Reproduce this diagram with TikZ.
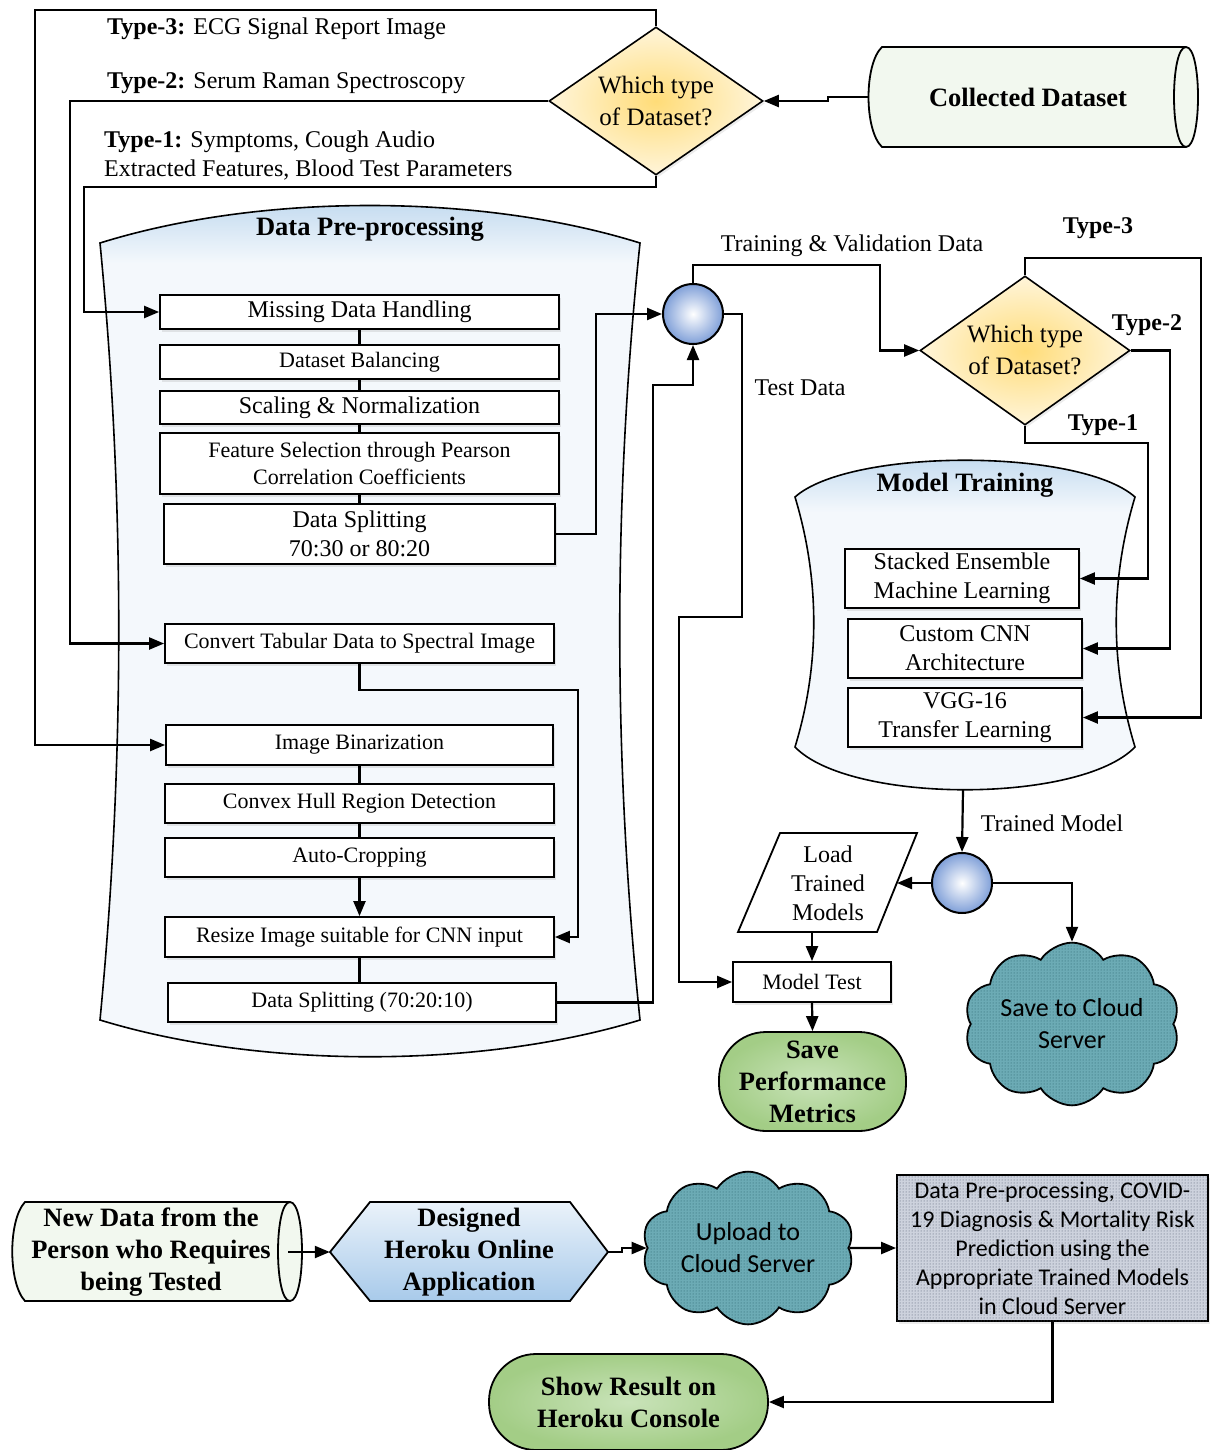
\documentclass[tikz,border=0pt]{standalone}
\usepackage{fontspec}
\setmainfont{Liberation Serif}
\newfontfamily\calib{Carlito}
\usetikzlibrary{arrows.meta,shapes.symbols,shapes.geometric,shadows,patterns,calc}
\definecolor{cylfill}{HTML}{F2F8EF}
\definecolor{dyel}{HTML}{FFDC78}
\definecolor{dlight}{HTML}{FFF5DA}
\definecolor{circblue}{HTML}{7F9FD8}
\definecolor{shtop}{HTML}{BDD7EE}
\definecolor{shlight}{HTML}{F4F8FC}
\definecolor{cloudfill}{HTML}{6CABB5}
\definecolor{clouddot}{HTML}{24606A}
\definecolor{grayfill}{HTML}{CDD2DD}
\definecolor{graydot}{HTML}{4E566C}
\definecolor{greenin}{HTML}{C9E3B9}
\definecolor{greenout}{HTML}{A3CD86}
\definecolor{hextop}{HTML}{EAF2FA}
\definecolor{hexbot}{HTML}{A8CAEA}
\pgfdeclareverticalshading{prepshade}{100bp}{color(0bp)=(shlight); color(25bp)=(shlight); color(71bp)=(shlight); color(75bp)=(shtop); color(100bp)=(shtop)}
\pgfdeclareverticalshading{mtshade}{100bp}{color(0bp)=(shlight); color(25bp)=(shlight); color(66bp)=(shlight); color(75bp)=(shtop); color(100bp)=(shtop)}
\newcommand\fsz[2]{\fontsize{#1}{#2}\selectfont}
\begin{document}
\begin{tikzpicture}[x=1pt,y=-1pt,
  every node/.style={inner sep=0pt},
  ln/.style={line width=2.2pt},
  arr/.style={line width=2.2pt,-{Triangle[length=15pt,width=12pt]}},
  pbox/.style={draw,line width=1.8pt,fill=white,align=center,
    drop shadow={opacity=0.18,shadow xshift=2pt,shadow yshift=-2.5pt}},
  circ/.style={circle,draw,line width=2pt,minimum size=60pt,inner color=white,outer color=circblue},
  diam/.style={diamond,draw,line width=1.6pt,inner color=dyel,outer color=dlight,
    drop shadow={opacity=0.15,shadow xshift=2pt,shadow yshift=-2.5pt}},
  dtext/.style={font=\rmfamily\fsz{25}{32},align=center},
  lab/.style={font=\rmfamily\fsz{24}{29}},
  blab/.style={font=\rmfamily\bfseries\fsz{24}{29}},
  ttl/.style={font=\rmfamily\bfseries\fsz{26.5}{32},align=center},
  cloudst/.style={cloud,cloud puffs=10,cloud puff arc=115,aspect=1.5,draw,line width=1.8pt,
    fill=cloudfill,postaction={pattern=dots,pattern color=clouddot},
    minimum width=212pt,minimum height=142pt,font=\calib\fsz{26}{32},align=center},
  stad/.style={draw,line width=1.8pt,rounded corners=47pt,inner color=greenin,outer color=greenout,
    font=\rmfamily\bfseries\fsz{26.5}{32},align=center}
]
\useasboundingbox (0,0) rectangle (1213,1450);

% containers
\shadedraw[line width=1.6pt,shading=prepshade] (100,243) .. controls (260,193) and (480,193) .. (640,243)
  .. controls (613,500) and (613,760) .. (640,1020) .. controls (480,1069) and (260,1069) .. (100,1020)
  .. controls (125,760) and (125,500) .. cycle;
\shadedraw[line width=1.6pt,shading=mtshade] (795,497) .. controls (850,448) and (1080,448) .. (1135,497)
  .. controls (1110,580) and (1110,665) .. (1135,747) .. controls (1080,804) and (850,804) .. (795,747)
  .. controls (820,665) and (820,580) .. cycle;
\node[ttl] (tpp) at (370,229) {Data Pre-processing};
\node[ttl] (tmt) at (965,485) {Model Training};

% collected dataset cylinder
\draw[line width=1.8pt,fill=cylfill] (882,47) -- (1186,47) .. controls (1202,47) and (1202,147) .. (1186,147)
  -- (882,147) .. controls (864,130) and (864,64) .. cycle;
\draw[line width=1.8pt] (1186,47) .. controls (1170,47) and (1170,147) .. (1186,147);
\node[ttl] (coll) at (1028,97) {Collected Dataset};
\coordinate (collW) at (868,97);

% decisions
\node[diam,minimum width=214pt,minimum height=148pt] (d1) at (656,101) {};
\node[dtext] (d1t) at (656,101) {Which type\\of Dataset?};
\node[diam,minimum width=210pt,minimum height=149pt] (d2) at (1025,350.5) {};
\node[dtext] (d2t) at (1025,350.5) {Which type\\of Dataset?};

% type labels
\node[lab,anchor=west] (l3) at (107,29) {\textbf{Type-3:} ECG Signal Report Image};
\node[lab,anchor=west] (l2) at (107,83) {\textbf{Type-2:} Serum Raman Spectroscopy};
\node[lab,anchor=west,align=left] (l1) at (104,156) {\textbf{Type-1:} Symptoms, Cough Audio\\Extracted Features, Blood Test Parameters};
\node[blab] (r3) at (1098,228) {Type-3};
\node[blab] (r2) at (1147,325) {Type-2};
\node[blab] (r1) at (1103,425) {Type-1};
\node[lab] (ltv) at (852,246) {Training \& Validation Data};
\node[lab] (ltd) at (800,388) {Test Data};
\node[lab] (ltm) at (1052,823) {Trained Model};

% preprocessing boxes
\node[pbox,minimum width=399pt,minimum height=34pt,font=\fsz{24}{28}] (mdh) at (359.5,312) {Missing Data Handling};
\node[pbox,minimum width=399pt,minimum height=34pt,font=\fsz{22}{26}] (bal) at (359.5,362) {Dataset Balancing};
\node[pbox,minimum width=399pt,minimum height=33pt,font=\fsz{24}{28}] (scl) at (359.5,407.5) {Scaling \& Normalization};
\node[pbox,minimum width=399pt,minimum height=61pt,font=\fsz{22}{27}] (fs) at (359.5,463.5) {Feature Selection through Pearson\\Correlation Coefficients};
\node[pbox,minimum width=391pt,minimum height=60pt,font=\fsz{24}{29}] (ds1) at (359.5,534) {Data Splitting\\70:30 or 80:20};
\node[pbox,minimum width=389pt,minimum height=39pt,font=\fsz{22}{26}] (conv) at (359.5,643.5) {Convert Tabular Data to Spectral Image};
\node[pbox,minimum width=387pt,minimum height=40pt,font=\fsz{22}{26}] (bin) at (359.5,745) {Image Binarization};
\node[pbox,minimum width=389pt,minimum height=39pt,font=\fsz{22}{26}] (hull) at (359.5,803.5) {Convex Hull Region Detection};
\node[pbox,minimum width=389pt,minimum height=39pt,font=\fsz{22}{26}] (crop) at (359.5,857.5) {Auto-Cropping};
\node[pbox,minimum width=389pt,minimum height=40pt,font=\fsz{22}{26}] (resize) at (359.5,937) {Resize Image suitable for CNN input};
\node[pbox,minimum width=388pt,minimum height=39pt,font=\fsz{22}{26}] (ds2) at (362,1002.5) {Data Splitting (70:20:10)};

% model boxes
\node[pbox,minimum width=234pt,minimum height=59pt,font=\fsz{24}{29}] (sem) at (962,578.5) {Stacked Ensemble\\Machine Learning};
\node[pbox,minimum width=234pt,minimum height=59pt,font=\fsz{24}{29}] (cnn) at (965,648.5) {Custom CNN\\Architecture};
\node[pbox,minimum width=234pt,minimum height=59pt,font=\fsz{24}{29}] (vgg) at (965,717.5) {VGG-16\\Transfer Learning};

% circles
\node[circ] (m1) at (693,314) {};
\node[circ] (m2) at (962,883) {};

% load trained models
\draw[line width=1.8pt,fill=white] (738,932) -- (780,833) -- (917,833) -- (877,932) -- cycle;
\node[lab,align=center] (load) at (828,883) {Load\\Trained\\Models};
\coordinate (loadR) at (897,883);
\coordinate (loadB) at (812,932);

\node[pbox,minimum width=158pt,minimum height=40pt,font=\fsz{22}{26}] (mtest) at (812,982) {Model Test};
\node[stad,minimum width=187pt,minimum height=99pt] (spm) at (812.5,1081.5) {Save\\Performance\\Metrics};
\node[cloudst] (scs) at (1072,1024) {Save to Cloud\\Server};

% bottom row
\draw[line width=1.8pt,fill=cylfill] (25,1202) -- (290,1202) .. controls (306,1202) and (306,1301) .. (290,1301)
  -- (25,1301) .. controls (8,1283) and (8,1220) .. cycle;
\draw[line width=1.8pt] (290,1202) .. controls (274,1202) and (274,1301) .. (290,1301);
\node[ttl] (nd) at (151,1252) {New Data from the\\Person who Requires\\being Tested};
\coordinate (ndE) at (288,1252);
\shade[top color=hextop,bottom color=hexbot,draw=black,line width=1.8pt]
  (330,1252) -- (370,1202) -- (570,1202) -- (608,1252) -- (570,1301) -- (370,1301) -- cycle;
\node[ttl,minimum width=278pt] (hero) at (469,1252) {Designed\\Heroku Online\\Application};
\node[cloudst] (up) at (748,1248) {Upload to\\Cloud Server};
\node[draw,line width=1.8pt,fill=grayfill,postaction={pattern=dots,pattern color=graydot},
  minimum width=311pt,minimum height=146pt,font=\calib\fsz{24}{29},align=center,
  drop shadow={opacity=0.15,shadow xshift=2pt,shadow yshift=-2.5pt}] (gbox) at (1052.5,1248)
  {Data Pre-processing, COVID-\\19 Diagnosis \& Mortality Risk\\Prediction using the\\Appropriate Trained Models\\in Cloud Server};
\node[stad,minimum width=279pt,minimum height=96pt] (show) at (628.5,1402) {Show Result on\\Heroku Console};

% ---------- connectors ----------
\draw[ln] (mdh) -- (bal);
\draw[ln] (bal) -- (scl);
\draw[ln] (scl) -- (fs);
\draw[ln] (fs.south) -- (fs.south |- ds1.north);
\draw[ln] (bin) -- (hull);
\draw[ln] (hull) -- (crop);
\draw[arr] (crop) -- (resize);
\draw[ln] (resize.south) -- (resize.south |- ds2.north);
\coordinate (cv1) at (578,690);
\draw[arr] (conv.south) |- (cv1) |- (resize.east);

\coordinate (t3c) at (35,10);
\coordinate (t2c) at (70,400);
\coordinate (t1c) at (84,187);
\draw[arr] (d1.north) |- (t3c) |- (bin.west);
\draw[arr] (d1.west) -| (t2c) |- (conv.west);
\draw[arr] (d1.south) |- (t1c) |- (mdh.west);
\coordinate (cd1) at (828,97);
\draw[arr] (collW) -- (cd1) |- (d1.east);

\coordinate (s1) at (596,534);
\draw[arr] (ds1.east) -- (s1) |- (m1.west);
\coordinate (s2) at (653,385);
\draw[arr] (ds2.east) -| (s2) -| (m1.south);
\coordinate (tv) at (880,265);
\draw[arr] (m1.north) |- (tv) |- (d2.west);
\coordinate (td1) at (742,617);
\coordinate (td2) at (679,617);
\draw[arr] (m1.east) -| (td1) -- (td2) |- (mtest.west);

\coordinate (c3) at (1201,258);
\coordinate (c2) at (1170,350.5);
\coordinate (c1) at (1148,443);
\draw[arr] (d2.north) |- (c3) |- (vgg.east);
\draw[arr] (d2.east) -- (c2) |- (cnn.east);
\draw[arr] (d2.south) |- (c1) |- (sem.east);

\coordinate (mtb) at (963,790);
\draw[arr] (mtb) -- (m2.north);
\draw[arr] (m2.west) -- (loadR);
\draw[arr] (loadB) -- (mtest.north);
\draw[arr] (mtest.south) -- (spm.north);
\draw[arr] (m2.east) -| (scs.north);

\draw[arr] (ndE) -- (hero.west);
\coordinate (hs) at (622,1252);
\draw[arr] (hero.east) -- (hs) |- (up.west);
\draw[arr] (up.east) -- (gbox.west);
\draw[arr] (gbox.south) |- (show.east);
\end{tikzpicture}
\end{document}
